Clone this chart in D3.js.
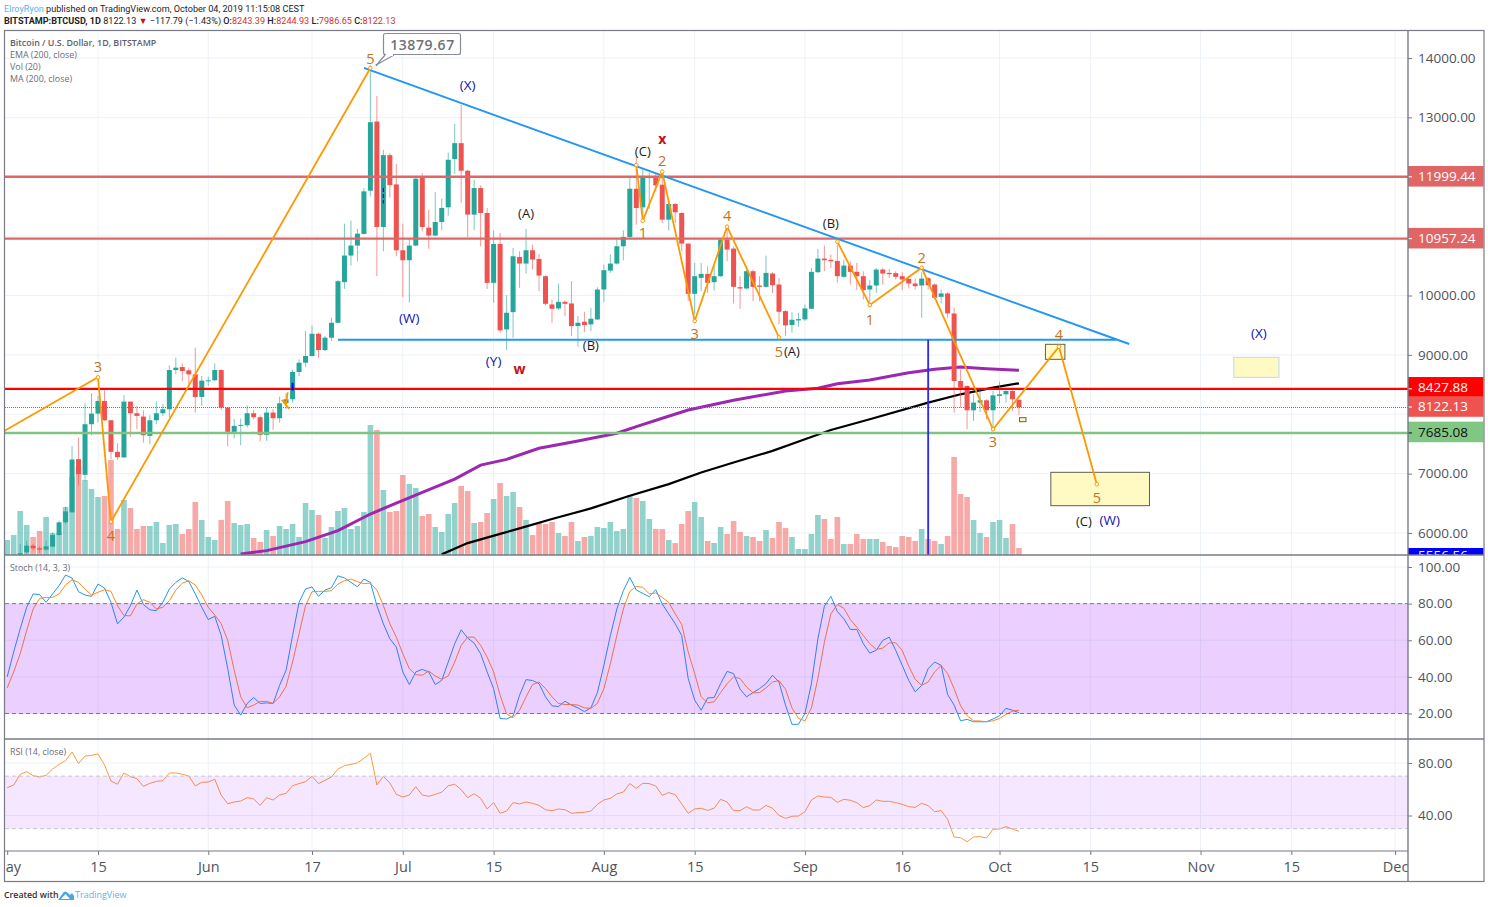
<!DOCTYPE html>
<html>
<head>
<meta charset="utf-8">
<script src="https://cdn.jsdelivr.net/npm/d3@7"></script>
<style>
html, body { margin: 0; padding: 0; background: #fff; }
svg { display: block; }
text { font-family: "Open Sans", "Noto Sans", sans-serif; }
</style>
</head>
<body>
<svg id="chart" width="1488" height="907"></svg>
<script>
// daily candles, first one is May 1 2019, last one Oct 4 2019
var startDay = "2019-05-01"

var opens = [
  5350,5400,5500,5675,5787,5742,5720,5771,5967,6180,6348,7244,6980,7832,8011,8224,7899,7367,7272,8213,8017,7961,7636,7899,8017,8084,8745,8796,8740,8672,8291,
  8560,8572,8745,8112,7703,7804,7815,8017,7950,7653,8028,7933,8185,8252,8712,8868,8981,9356,9081,9289,9541,10225,10673,10841,11037,11765,12930,11154,12364,11871,
  10762,10594,10841,11995,11143,11009,11238,11485,12297,12566,12101,11362,11810,11390,10213,10868,9429,9720,10650,10538,10762,10616,10325,9849,9782,9894,9866,9485,9558,9513,9597,
  10101,10420,10538,10829,10986,11798,11485,11978,11994,11866,11277,11541,11390,10874,10028,10297,10364,10224,10325,10941,10790,10140,10118,10409,10168,10146,10370,10185,9737,9502,9580,
  9597,9776,10392,10622,10600,10583,10314,10504,10398,10325,10101,10168,10437,10381,10376,10325,10280,10202,10168,10291,10185,9978,10034,9697,8560,8476,8067,8196,8235,8067,
  8308,8336,8392,8243]
var highs = [
  5420,5550,5815,5871,5815,5776,5871,6011,6208,6448,7468,7608,8185,8353,8308,8404,7899,7513,8320,8213,8140,8067,7983,8213,8168,8824,8953,8857,8784,9121,8644,
  8633,8857,8756,8112,7916,7927,8151,8073,7980,8112,8084,8297,8353,8756,8924,9401,9496,9373,9317,9625,10265,11210,11261,11121,11810,13880,13362,12454,12398,12213,
  11210,10953,11978,12062,11446,11743,11631,12409,12891,13210,12118,11950,11855,11474,11093,11053,10006,10801,10745,11126,10857,10700,10336,9933,10202,9916,10241,9653,9726,9793,10140,
  10521,10689,10941,11098,11978,12342,12146,12073,12062,12090,11558,11558,11401,10874,10549,10549,10493,10493,10953,11165,10829,10325,10493,10437,10325,10672,10392,10297,9754,9720,9709,
  9849,10465,10784,10840,10689,10857,10605,10577,10549,10409,10258,10465,10465,10448,10409,10392,10325,10280,10392,10308,10202,10101,10056,9793,8756,8487,8336,8420,8252,8392,
  8549,8420,8420,8245]
var lows = [
  5300,5380,5480,5647,5703,5664,5703,5759,5955,6151,6348,6796,6880,7647,7860,7888,7244,7233,7272,7619,7748,7524,7496,7832,7972,7944,8672,8560,8476,8028,8140,
  8476,8560,8073,7457,7591,7479,7776,7916,7541,7552,7737,7860,8084,8196,8644,8801,8969,8953,9065,9233,9530,10112,10505,10577,11026,11670,10325,10745,11650,10661,
  9972,9882,10829,11082,10785,10998,11098,11345,12051,11558,10986,11098,10829,10112,9877,9373,9081,9289,10129,10370,10437,10073,9832,9541,9754,9653,9317,9137,9384,9401,9586,
  9888,10381,10521,10594,10969,11193,11333,11457,11754,11221,11093,11221,10745,9905,9681,10073,10045,10084,10314,10577,9866,9776,10101,9905,9905,10129,10045,9513,9317,9373,9474,
  9569,9776,10381,10409,10465,10213,10297,10185,10090,9933,9877,10045,10185,10297,10269,10090,10118,10101,9625,10101,9933,9866,9625,8028,8112,7748,7888,8039,7916,7748,
  8185,8196,8056,7987]
var closes = [
  5400,5500,5660,5787,5742,5720,5776,5967,6180,6364,7238,6992,7832,8011,8224,7899,7367,7277,8213,8017,7972,7647,7899,8017,8084,8745,8784,8728,8672,8291,8566,
  8572,8745,8112,7703,7804,7821,8017,7950,7653,8028,7933,8185,8252,8712,8868,8981,9356,9081,9289,9541,10241,10673,10841,11042,11754,12919,11154,12364,11860,10762,
  10594,10841,11967,11154,11009,11238,11474,12286,12566,12101,11362,11810,11390,10213,10868,9412,9709,10661,10538,10762,10605,10336,9860,9776,9894,9860,9485,9541,9502,9608,10101,
  10426,10538,10829,10986,11798,11473,11994,11994,11854,11277,11541,11401,10874,10028,10325,10364,10213,10325,10941,10773,10146,10118,10409,10146,10146,10381,10174,9726,9496,9591,9602,
  9782,10398,10622,10594,10577,10325,10504,10398,10325,10090,10168,10437,10370,10359,10314,10269,10202,10157,10286,10174,9961,10034,9698,8560,8448,8067,8196,8235,8067,8319,
  8336,8392,8252,8122]

// volume, in the picture's own relative units
var volumes = [
  15,20,44,30,18,24,38,22,22,48,78,88,75,66,58,59,95,26,55,47,26,29,29,33,12,30,31,21,26,53,35,
  18,15,35,54,32,30,31,17,13,25,19,29,26,31,18,52,45,40,17,28,44,47,26,29,43,130,125,65,43,44,
  80,71,67,39,41,28,23,41,52,69,64,32,33,42,56,72,59,63,48,35,20,32,31,33,22,19,33,14,18,19,28,
  27,33,24,26,60,57,54,36,26,26,15,12,31,44,53,38,14,12,28,21,34,23,19,18,14,25,17,33,27,18,6,
  6,21,40,36,16,38,11,11,21,16,16,16,13,9,8,19,18,14,26,16,14,11,19,98,61,58,35,22,18,33,
  35,17,31,7]

var stochK = [
  40,53.6,66.2,78,85.3,84.9,80.7,85.3,89.8,95.6,94,86.5,84.7,84,90.7,88.5,80.7,69,72.6,78.9,87.4,79.5,76.6,76.2,80.7,88,91.6,94.1,92,85.3,78,
  71.3,73.1,62.6,44.5,24.6,19.1,25.5,28.7,25.5,25.8,25.5,35.4,43.6,62.6,80.7,88,89.1,84,87.4,88.7,95.2,94,91.6,89.2,93.4,91.6,78.9,69,60.8,56.3,
  42.7,35.8,42.7,44.1,42.7,35.8,38.1,48.1,58.1,65.7,61.2,58.4,52.6,42.7,33.6,17.3,17,18.6,30,38.5,38,36.3,29.1,24.2,23.8,26.7,24.6,23.1,21,23.1,31.4,
  46.3,62.6,77.1,87.1,94.3,87.4,85.6,83.8,87.6,79.8,74.4,69,62.6,39.1,27.3,21.8,28.5,28.7,36.3,43,41.8,33.3,29.1,31.4,33.6,36.3,40.9,37.2,24.6,14.1,14.1,
  20,36.3,60.8,78.6,84,75.7,71.7,65.9,65.9,58.1,53,54.5,59.9,61.7,54.5,46.3,38.1,31.8,35.4,44.5,48.1,46.3,30.4,24.6,16,16.8,15.5,15.5,15.5,17,
  18.8,22.8,21.8,20.4]
var stochD = [
  34,42.7,52.6,65.3,77.1,82.9,83.4,83.4,85.3,90.2,93.1,91.6,88,84.7,86.2,87.6,86.7,78.9,73.5,73.3,79.8,82.2,80.7,77.1,78,81.6,87.4,91.2,92.5,90.2,84.7,
  78,73.8,69,59.9,43.6,29.1,23.1,24.6,26.6,26.6,25.5,29.1,34.9,48.1,63.5,78.9,86.5,86.7,86.7,87.1,90.7,92.5,93.4,92,90.9,91.2,87.4,78.9,69,61.7,
  52.6,44.5,41.2,40.9,43.2,40.5,38.7,40.5,48.1,57.2,61.7,61.7,57.2,50.8,42.7,30,19.7,17.7,21.8,29.1,35.8,37.2,33.6,29.1,25.5,24.9,24.9,24.6,23.1,22.8,25.5,
  33.6,47.2,62.6,77.1,86.7,89.4,88.9,85.3,85.8,83.4,80.7,74.4,68.6,53.6,41.8,29.1,25.8,26.4,31.4,36.3,40,39.1,34.5,31.3,31.4,34,37.2,38,33.3,23.1,17.3,
  16,23.1,39.1,59,74.4,79.5,77.5,71.3,67.1,62.6,58.1,55,55.7,58.6,58.6,54.5,45.9,38.7,35.4,37.2,42.7,46.3,41.8,33.6,24.2,18.8,16,15.9,15.5,16,
  17.3,19.5,21.3,21.8]
var rsi = [
  61.2,63.2,71.4,73.4,70.4,69.3,70.6,75.4,79,81.8,88.4,79.5,85.3,85.8,86.9,78.5,66.3,63.8,72.4,69.6,68.1,62.2,64.5,66,66.5,72.4,72.4,71.4,70.1,62.5,65.3,
  65.5,67.6,55.4,49,50.3,51,53.6,52.6,47.7,53.6,51.8,55.6,56.9,62.7,64.3,65.8,69.8,64.3,66.8,69.3,75.4,78,79,80,83.6,87.4,63.2,69.8,64.8,56.1,
  54.1,55.6,62,55.6,54.6,56.1,57.7,62.7,63.8,59.7,53.6,56.6,53.1,45,49.8,41.7,43.4,49.8,48.8,50.3,49.3,47.7,44.4,43.7,45,44.4,41.7,42.2,42.4,43.4,48.5,
  51.8,53.1,56.4,57.9,64.3,60.7,64.5,64.3,62.5,55.4,57.4,55.9,48.8,41.7,45,45.5,43.9,45.5,52.3,50.3,43.7,43.7,46.7,44.2,44.2,47.7,45.5,40.1,37.8,39.4,39.6,
  42.9,51.8,54.9,54.1,53.8,50,52.3,51.6,49.8,46,47.5,51.8,50.8,50.8,49.8,48.5,46.7,46.2,49.3,47.5,42.9,43.7,37.1,23.6,23.1,20,23.6,23.9,22.9,29.5,
  29.7,31.5,29.7,27.9]

// moving averages, read at a few dates
var emaDates = ["2019-06-06","2019-06-10","2019-06-16","2019-06-21","2019-06-26","2019-06-30","2019-07-04","2019-07-09","2019-07-13","2019-07-17","2019-07-22","2019-07-28","2019-08-03","2019-08-06","2019-08-10","2019-08-14","2019-08-21","2019-08-29","2019-09-03","2019-09-06","2019-09-11","2019-09-17","2019-09-21","2019-09-25","2019-09-29","2019-10-04"]
var emaValues = [5647,5703,5855,6039,6320,6504,6684,6908,7143,7240,7428,7551,7680,7792,7932,8072,8235,8392,8437,8515,8577,8700,8756,8795,8767,8740]
var maDates = ["2019-07-07","2019-07-11","2019-07-16","2019-07-19","2019-07-24","2019-07-30","2019-08-05","2019-08-11","2019-08-16","2019-08-21","2019-08-27","2019-09-01","2019-09-05","2019-09-11","2019-09-20","2019-09-25","2019-09-30","2019-10-04"]
var maValues = [5640,5830,5985,6078,6235,6414,6627,6823,7019,7187,7383,7579,7736,7916,8196,8336,8448,8521]

var gridPriceTicks = [14000,13000,12000,11000,10000,9000,8000,7000,6000]
// 8000.00 is hidden behind the price tags in the picture
var priceTicks = [14000,13000,12000,11000,10000,9000,7000,6000]
var stochTicks = [100,80,60,40,20]
var rsiTicks = [80,40]
var timeTickDates = ["2019-05-01","2019-05-15","2019-06-01","2019-06-17","2019-07-01","2019-07-15","2019-08-01","2019-08-15","2019-09-01","2019-09-16","2019-10-01","2019-10-15","2019-11-01","2019-11-15","2019-12-01"]
var timeTickLabels = ["ay","15","Jun","17","Jul","15","Aug","15","Sep","16","Oct","15","Nov","15","Dec"]

// drawings on the chart
var wave1Dates = ["2019-04-30","2019-05-15","2019-05-17","2019-06-26"]
var wave1Prices = [7684,8622,6190,13832]
var wave2Dates = ["2019-08-06","2019-08-07","2019-08-10","2019-08-15","2019-08-20","2019-08-28"]
var wave2Prices = [12198,11260,12085,9571,11159,9296]
var wave3Dates = ["2019-09-06","2019-09-11","2019-09-19","2019-09-30","2019-10-10T04:00","2019-10-16"]
var wave3Prices = [10906,9840,10468,7747,9138,6820]
var tinyWaveDates = ["2019-06-13T06:00","2019-06-13","2019-06-12T08:00","2019-06-13T12:00"]
var tinyWavePrices = [8370,8180,8240,8090]

var levelValues = [11999.44,10957.24,8427.88,7685.08]
var lastPrice = 8122.13
var priceTagValues = [11999.44,10957.24,8427.88,8122.13,7685.08]

var trendDates = ["2019-06-25","2019-10-21"]
var trendPrices = [13832,9183]
var supportDates = ["2019-06-21","2019-10-19"]
var supportPrice = 9255
var verticalDate = "2019-09-20"
var verticalTop = 9255

var boxesDark = [
  ["2019-10-08T02:00","2019-10-11T02:00",9178,8925],
  ["2019-10-08T22:00","2019-10-24T03:00",7022,6460],
  ["2019-10-04T02:00","2019-10-05T02:00",7942,7875]]
var boxesLight = [["2019-11-06T03:00","2019-11-13T02:00",8959,8622]]

var orangeLabels = [
  ["2019-05-15",8796,"3"],["2019-05-17",5966,"4"],["2019-06-26",14000,"5"],["2019-08-07",11053,"1"],["2019-08-10",12282,"2"],
  ["2019-08-15",9352,"3"],["2019-08-20",11339,"4"],["2019-08-28",9065,"5"],["2019-09-11",9604,"1"],["2019-09-19",10648,"2"],
  ["2019-09-30",7533,"3"],["2019-10-10T04:00",9335,"4"],["2019-10-16",6590,"5"]]
var blackLabels = [
  ["2019-07-20",11389,"(A)"],["2019-08-07",12434,"(C)"],["2019-07-30",9166,"(B)"],["2019-08-30",9065,"(A)"],
  ["2019-09-05",11221,"(B)"],["2019-10-14",6202,"(C)"]]
var navyLabels = [
  ["2019-07-11",13545,"(X)"],["2019-07-02",9621,"(W)"],["2019-07-15",8897,"(Y)"],["2019-10-18",6219,"(W)"],["2019-11-10",9368,"(X)"]]
var redLabels = [["2019-08-10",12636,"x"],["2019-07-19",8775,"w"]]

var W = 1488, H = 907
var left = 5, right = 1408, frameRight = 1484, top0 = 31
var priceBottom = 555, stochBottom = 739, rsiBottom = 851, frameBottom = 881
var axisGrey = "#787b86", gridColor = "#edf2f7", textGrey = "#50535e"
var teal = "#26a69a", red = "#ef5350"

var svg = d3.select("#chart")
var defs = svg.append("defs")
function clip(id, y0, y1, x1) {
  defs.append("clipPath").attr("id", id).append("rect")
    .attr("x", left).attr("y", y0).attr("width", (x1 || right) - left).attr("height", y1 - y0)
}
clip("clipPrice", top0, priceBottom)
clip("clipStoch", priceBottom, stochBottom)
clip("clipRsi", stochBottom, rsiBottom)
clip("clipTag", top0, priceBottom, frameRight)
clip("clipTime", rsiBottom, frameBottom)

var d = function(s) { return new Date(s.length > 10 ? s + "Z" : s) }
var x = d3.scaleUtc().domain([d("2019-05-01"), d("2019-10-01")]).range([7.2, 999.5])
var yPrice = d3.scaleLinear().domain([14000, 6000]).range([58, 533])
var yVol = d3.scaleLinear().domain([0, 100]).range([priceBottom, priceBottom - 100])
var yStoch = d3.scaleLinear().domain([100, 20]).range([567, 713.5])
var yRsi = d3.scaleLinear().domain([80, 40]).range([763, 815.5])

var candles = opens.map(function(o, i) {
  return { date: d3.utcDay.offset(d(startDay), i), o: o, h: highs[i], l: lows[i], c: closes[i], v: volumes[i] }
})

// grid
var grid = svg.append("g").attr("stroke", gridColor).attr("stroke-width", 1)
timeTickDates.slice(1).forEach(function(t) {
  grid.append("line").attr("x1", x(d(t))).attr("x2", x(d(t))).attr("y1", top0).attr("y2", rsiBottom)
})
function hGrid(ticks, scale) {
  ticks.forEach(function(t) {
    grid.append("line").attr("x1", left).attr("x2", right).attr("y1", scale(t)).attr("y2", scale(t))
  })
}
hGrid(gridPriceTicks, yPrice)
hGrid(stochTicks, yStoch)
hGrid(rsiTicks, yRsi)

// price pane
var pane = svg.append("g").attr("clip-path", "url(#clipPrice)")

pane.selectAll("rect.vol").data(candles).join("rect").attr("class", "vol")
  .attr("x", function(c) { return x(c.date) - 2.8 })
  .attr("width", 5.6)
  .attr("y", function(c) { return yVol(c.v) })
  .attr("height", function(c) { return priceBottom - yVol(c.v) })
  .attr("fill", function(c) { return c.c >= c.o ? teal : red })
  .attr("opacity", 0.5)

var priceLine = d3.line().x(function(p) { return x(d(p[0])) }).y(function(p) { return yPrice(p[1]) })
function zipLine(dates, vals) { return dates.map(function(t, i) { return [t, vals[i]] }) }

pane.append("path").attr("d", priceLine(zipLine(maDates, maValues)))
  .attr("fill", "none").attr("stroke", "#000").attr("stroke-width", 2.2)
pane.append("path").attr("d", priceLine(zipLine(emaDates, emaValues)))
  .attr("fill", "none").attr("stroke", "#9c27b0").attr("stroke-width", 3)

pane.selectAll("line.wick").data(candles).join("line").attr("class", "wick")
  .attr("x1", function(c) { return x(c.date) }).attr("x2", function(c) { return x(c.date) })
  .attr("y1", function(c) { return yPrice(c.h) }).attr("y2", function(c) { return yPrice(c.l) })
  .attr("stroke", function(c) { return c.c >= c.o ? teal : red })
  .attr("stroke-width", 1).attr("opacity", 0.6)
pane.selectAll("rect.body").data(candles).join("rect").attr("class", "body")
  .attr("x", function(c) { return x(c.date) - 2.5 })
  .attr("width", 5)
  .attr("y", function(c) { return yPrice(Math.max(c.o, c.c)) })
  .attr("height", function(c) { return Math.max(1, Math.abs(yPrice(c.o) - yPrice(c.c))) })
  .attr("fill", function(c) { return c.c >= c.o ? teal : red })

// last close dotted line
pane.append("line").attr("x1", left).attr("x2", right).attr("y1", Math.round(yPrice(lastPrice)) + 0.5).attr("y2", Math.round(yPrice(lastPrice)) + 0.5)
  .attr("stroke", "#f44336").attr("stroke-width", 1).attr("stroke-dasharray", "1 1")

// horizontal levels
var levelColors = ["#e06666", "#e06666", "#ff0000", "#7fc480"]
levelValues.forEach(function(v, i) {
  pane.append("line").attr("x1", left).attr("x2", right).attr("y1", yPrice(v)).attr("y2", yPrice(v))
    .attr("stroke", levelColors[i]).attr("stroke-width", 2.4)
})

// blue trend lines
pane.append("path").attr("d", priceLine(zipLine(trendDates, trendPrices)))
  .attr("fill", "none").attr("stroke", "#2196f3").attr("stroke-width", 1.9)
pane.append("line").attr("x1", x(d(supportDates[0]))).attr("x2", x(d(supportDates[1])))
  .attr("y1", yPrice(supportPrice)).attr("y2", yPrice(supportPrice))
  .attr("stroke", "#2196f3").attr("stroke-width", 1.9)
pane.append("line").attr("x1", x(d(verticalDate))).attr("x2", x(d(verticalDate)))
  .attr("y1", yPrice(verticalTop)).attr("y2", priceBottom)
  .attr("stroke", "#2a2af5").attr("stroke-width", 1.8)

// small marks left on candles
pane.append("line").attr("x1", x(d("2019-06-14"))).attr("x2", x(d("2019-06-14")))
  .attr("y1", yPrice(8530)).attr("y2", yPrice(8400)).attr("stroke", "#0000ff").attr("stroke-width", 2)
pane.append("line").attr("x1", x(d("2019-06-28"))).attr("x2", x(d("2019-06-28")))
  .attr("y1", yPrice(11810)).attr("y2", yPrice(11550)).attr("stroke", "#0000ff").attr("stroke-width", 1.2)
  .attr("stroke-dasharray", "4 2")

// yellow boxes
function drawBox(b, stroke) {
  pane.append("rect").attr("x", x(d(b[0]))).attr("width", x(d(b[1])) - x(d(b[0])))
    .attr("y", yPrice(b[2])).attr("height", yPrice(b[3]) - yPrice(b[2]))
    .attr("fill", "#fff9c4").attr("stroke", stroke).attr("stroke-width", 1)
}
boxesDark.forEach(function(b) { drawBox(b, "#5f5f4e") })
boxesLight.forEach(function(b) { drawBox(b, "#c3d8e8") })

// elliott wave lines with their little nodes
function drawWave(dates, prices, nodeSize) {
  var pts = zipLine(dates, prices)
  pane.append("path").attr("d", priceLine(pts)).attr("fill", "none")
    .attr("stroke", "#ff9800").attr("stroke-width", 1.8)
  if (!nodeSize) return
  pane.selectAll(null).data(pts).join("circle")
    .attr("cx", function(p) { return x(d(p[0])) }).attr("cy", function(p) { return yPrice(p[1]) })
    .attr("r", nodeSize).attr("fill", "#fff").attr("stroke", "#ff9800").attr("stroke-width", 1)
}
drawWave(wave1Dates, wave1Prices, 1.8)
drawWave(wave2Dates, wave2Prices, 1.8)
drawWave(wave3Dates, wave3Prices, 1.8)
drawWave(tinyWaveDates, tinyWavePrices, 0)

// wave labels
function drawLabels(list, color, size, weight) {
  svg.append("g").selectAll("text").data(list).join("text")
    .attr("x", function(l) { return x(d(l[0])) }).attr("y", function(l) { return yPrice(l[1]) })
    .attr("text-anchor", "middle").attr("dominant-baseline", "central")
    .attr("fill", color).attr("font-size", size).attr("font-weight", weight || 400)
    .text(function(l) { return l[2] })
}
drawLabels(orangeLabels, "#bf7420", 14.5)
drawLabels(blackLabels, "#1a1a1a", 13)
drawLabels(navyLabels, "#1111b8", 13.5)
drawLabels(redLabels, "#c41212", 14, 700)

// callout on the top
var call = svg.append("g")
call.append("path").attr("d", "M385,55 L377,64.5 L394,55").attr("fill", "#fff").attr("stroke", "#8a8d96").attr("stroke-width", 1.2)
call.append("rect").attr("x", 383.5).attr("y", 33.5).attr("width", 77).attr("height", 21).attr("rx", 2)
  .attr("fill", "#fff").attr("stroke", "#8a8d96").attr("stroke-width", 1.2)
call.append("path").attr("d", "M386,55 L393,55").attr("stroke", "#fff").attr("stroke-width", 2)
call.append("circle").attr("cx", 376.5).attr("cy", 65).attr("r", 1).attr("fill", "#787b86")
call.append("text").attr("x", 422.5).attr("y", 49.5).attr("text-anchor", "middle")
  .attr("font-size", 14).attr("font-weight", 600).attr("fill", "#6f7179").attr("letter-spacing", 0.6).text("13879.67")

// stochastic pane
var stochPane = svg.append("g").attr("clip-path", "url(#clipStoch)")
var dayLine = function(scale) {
  return d3.line().x(function(v, i) { return x(d3.utcDay.offset(d(startDay), i)) }).y(function(v) { return scale(v) })
}
stochPane.append("path").attr("d", dayLine(yStoch)(stochK)).attr("fill", "none").attr("stroke", "#2196f3").attr("stroke-width", 1)
stochPane.append("path").attr("d", dayLine(yStoch)(stochD)).attr("fill", "none").attr("stroke", "#ff8a1f").attr("stroke-width", 1)
stochPane.append("rect").attr("x", left).attr("width", right - left).attr("y", yStoch(80)).attr("height", yStoch(20) - yStoch(80))
  .attr("fill", "#9915ff").attr("opacity", 0.2)
;[80, 20].forEach(function(v) {
  stochPane.append("line").attr("x1", left).attr("x2", right).attr("y1", yStoch(v)).attr("y2", yStoch(v))
    .attr("stroke", axisGrey).attr("stroke-dasharray", "4 3")
})

// rsi pane
var rsiPane = svg.append("g").attr("clip-path", "url(#clipRsi)")
rsiPane.append("path").attr("d", dayLine(yRsi)(rsi)).attr("fill", "none").attr("stroke", "#ff9a3c").attr("stroke-width", 1)
rsiPane.append("rect").attr("x", left).attr("width", right - left).attr("y", yRsi(70)).attr("height", yRsi(30) - yRsi(70))
  .attr("fill", "#9915ff").attr("opacity", 0.1)
;[70, 30].forEach(function(v) {
  rsiPane.append("line").attr("x1", left).attr("x2", right).attr("y1", yRsi(v)).attr("y2", yRsi(v))
    .attr("stroke", "#c9c6cf").attr("stroke-dasharray", "4 3")
})

// axes
function styleAxis(g) {
  g.select(".domain").remove()
  g.selectAll("line").attr("stroke", axisGrey)
  g.selectAll("text").attr("fill", textGrey).attr("font-size", 13.5).attr("font-family", '"Open Sans", sans-serif')
}
svg.append("g").attr("transform", "translate(" + right + ",0)")
  .call(d3.axisRight(yPrice).tickValues(priceTicks).tickFormat(d3.format(".2f")).tickSize(4).tickPadding(6)).call(styleAxis)
svg.append("g").attr("transform", "translate(" + right + ",0)")
  .call(d3.axisRight(yStoch).tickValues(stochTicks).tickFormat(d3.format(".2f")).tickSize(4).tickPadding(6)).call(styleAxis)
svg.append("g").attr("transform", "translate(" + right + ",0)")
  .call(d3.axisRight(yRsi).tickValues(rsiTicks).tickFormat(d3.format(".2f")).tickSize(4).tickPadding(6)).call(styleAxis)

// the outer group holds the clip, "Dec" is cut by the price axis
var timeAxis = svg.append("g").attr("clip-path", "url(#clipTime)")
  .append("g").attr("transform", "translate(0," + rsiBottom + ")")
  .call(d3.axisBottom(x).tickValues(timeTickDates.map(d)).tickFormat(function(t, i) { return timeTickLabels[i] }).tickSize(4).tickPadding(7))
  .call(styleAxis)
timeAxis.selectAll("text").attr("font-size", 14.5)
timeAxis.select(".tick text").attr("text-anchor", "start").attr("dx", -2)

// price tags on the right side
var tagFill = ["#e06666", "#e06666", "#ff0000", "#ef5350", "#81c784"]
var tagText = ["#fff", "#fff", "#fff", "#fff", "#111"]
var tags = svg.append("g").attr("clip-path", "url(#clipTag)")
priceTagValues.forEach(function(v, i) {
  // the two lower tags are pushed apart so that they do not overlap
  var cy = yPrice(v) + (i == 3 ? -0.5 : i == 2 ? -1.5 : i == 4 ? -1 : -0.5)
  tags.append("rect").attr("x", right).attr("y", cy - 10.3).attr("width", frameRight - right - 0.5).attr("height", 20.6).attr("fill", tagFill[i])
  tags.append("line").attr("x1", right).attr("x2", right + 4).attr("y1", yPrice(v)).attr("y2", yPrice(v)).attr("stroke", tagText[i])
  tags.append("text").attr("x", right + 10).attr("y", cy + 5).attr("font-size", 13.5).attr("fill", tagText[i]).text(d3.format(".2f")(v))
})
tags.append("rect").attr("x", right).attr("y", 548).attr("width", frameRight - right - 0.5).attr("height", 12).attr("fill", "#0000ff")
tags.append("text").attr("x", right + 10).attr("y", 559.5).attr("font-size", 13.5).attr("fill", "#fff").text("5556.56")

// frame
var frame = svg.append("g").attr("stroke", axisGrey).attr("fill", "none")
frame.append("rect").attr("x", left - 0.5).attr("y", top0 - 0.5).attr("width", frameRight - left + 0.5).attr("height", frameBottom - top0 + 1).attr("stroke-width", 1.2)
frame.append("line").attr("x1", right).attr("x2", right).attr("y1", top0).attr("y2", frameBottom).attr("stroke-width", 1.4)
;[priceBottom, stochBottom].forEach(function(y) {
  frame.append("line").attr("x1", left).attr("x2", frameRight).attr("y1", y).attr("y2", y).attr("stroke-width", 1.4)
})
frame.append("line").attr("x1", left).attr("x2", right).attr("y1", rsiBottom).attr("y2", rsiBottom).attr("stroke-width", 1.2)

// header texts, narrower font to fit like the original
var h1 = svg.append("text").attr("x", 4).attr("y", 12).attr("font-size", 9.1).attr("fill", "#222").style("font-family", "Roboto")
h1.append("tspan").attr("fill", "#5ab4ea").text("ElroyRyon")
h1.append("tspan").text(" published on TradingView.com, October 04, 2019 11:15:08 CEST")

var h2 = svg.append("text").attr("x", 4).attr("y", 24).attr("font-size", 9.1).attr("fill", "#222").style("font-family", "Roboto")
h2.append("tspan").attr("font-weight", 700).text("BITSTAMP:BTCUSD, 1D")
h2.append("tspan").text("  8122.13 ")
h2.append("tspan").attr("fill", "#b71c1c").text("\u25BC")
h2.append("tspan").text(" \u2212117.79 (\u22121.43%) ")
h2.append("tspan").attr("font-weight", 500).text("O:")
h2.append("tspan").attr("fill", "#d32f2f").text("8243.39 ")
h2.append("tspan").attr("font-weight", 500).text("H:")
h2.append("tspan").attr("fill", "#d32f2f").text("8244.93 ")
h2.append("tspan").attr("font-weight", 500).text("L:")
h2.append("tspan").attr("fill", "#d32f2f").text("7986.65 ")
h2.append("tspan").attr("font-weight", 500).text("C:")
h2.append("tspan").attr("fill", "#d32f2f").text("8122.13")

// pane legends
svg.append("text").attr("x", 10).attr("y", 46).attr("font-size", 8.9).attr("font-weight", 600).attr("fill", "#5d606b").text("Bitcoin / U.S. Dollar, 1D, BITSTAMP")
var legendLines = ["EMA (200, close)", "Vol (20)", "MA (200, close)"]
legendLines.forEach(function(s, i) {
  svg.append("text").attr("x", 10).attr("y", 58 + i * 12).attr("font-size", 8.9).attr("fill", "#6a6d78").text(s)
})
svg.append("text").attr("x", 10).attr("y", 570.5).attr("font-size", 8.9).attr("fill", "#6a6d78").text("Stoch (14, 3, 3)")
svg.append("text").attr("x", 10).attr("y", 755).attr("font-size", 8.9).attr("fill", "#6a6d78").text("RSI (14, close)")

// footer
svg.append("text").attr("x", 4).attr("y", 898).attr("font-size", 8.8).attr("font-weight", 600).attr("fill", "#333").text("Created with")
svg.append("path").attr("d", "M58,900 L63,893 Q65,890 68,893 L70,895 L72,893 L74,896 L74,900 Z M61,899 L65.5,894 L70,899 Z")
  .attr("fill", "#4ba6e8").attr("fill-rule", "evenodd")
svg.append("text").attr("x", 75).attr("y", 898).attr("font-size", 9).attr("fill", "#5ab4ea").text("TradingView")
</script>
</body>
</html>
